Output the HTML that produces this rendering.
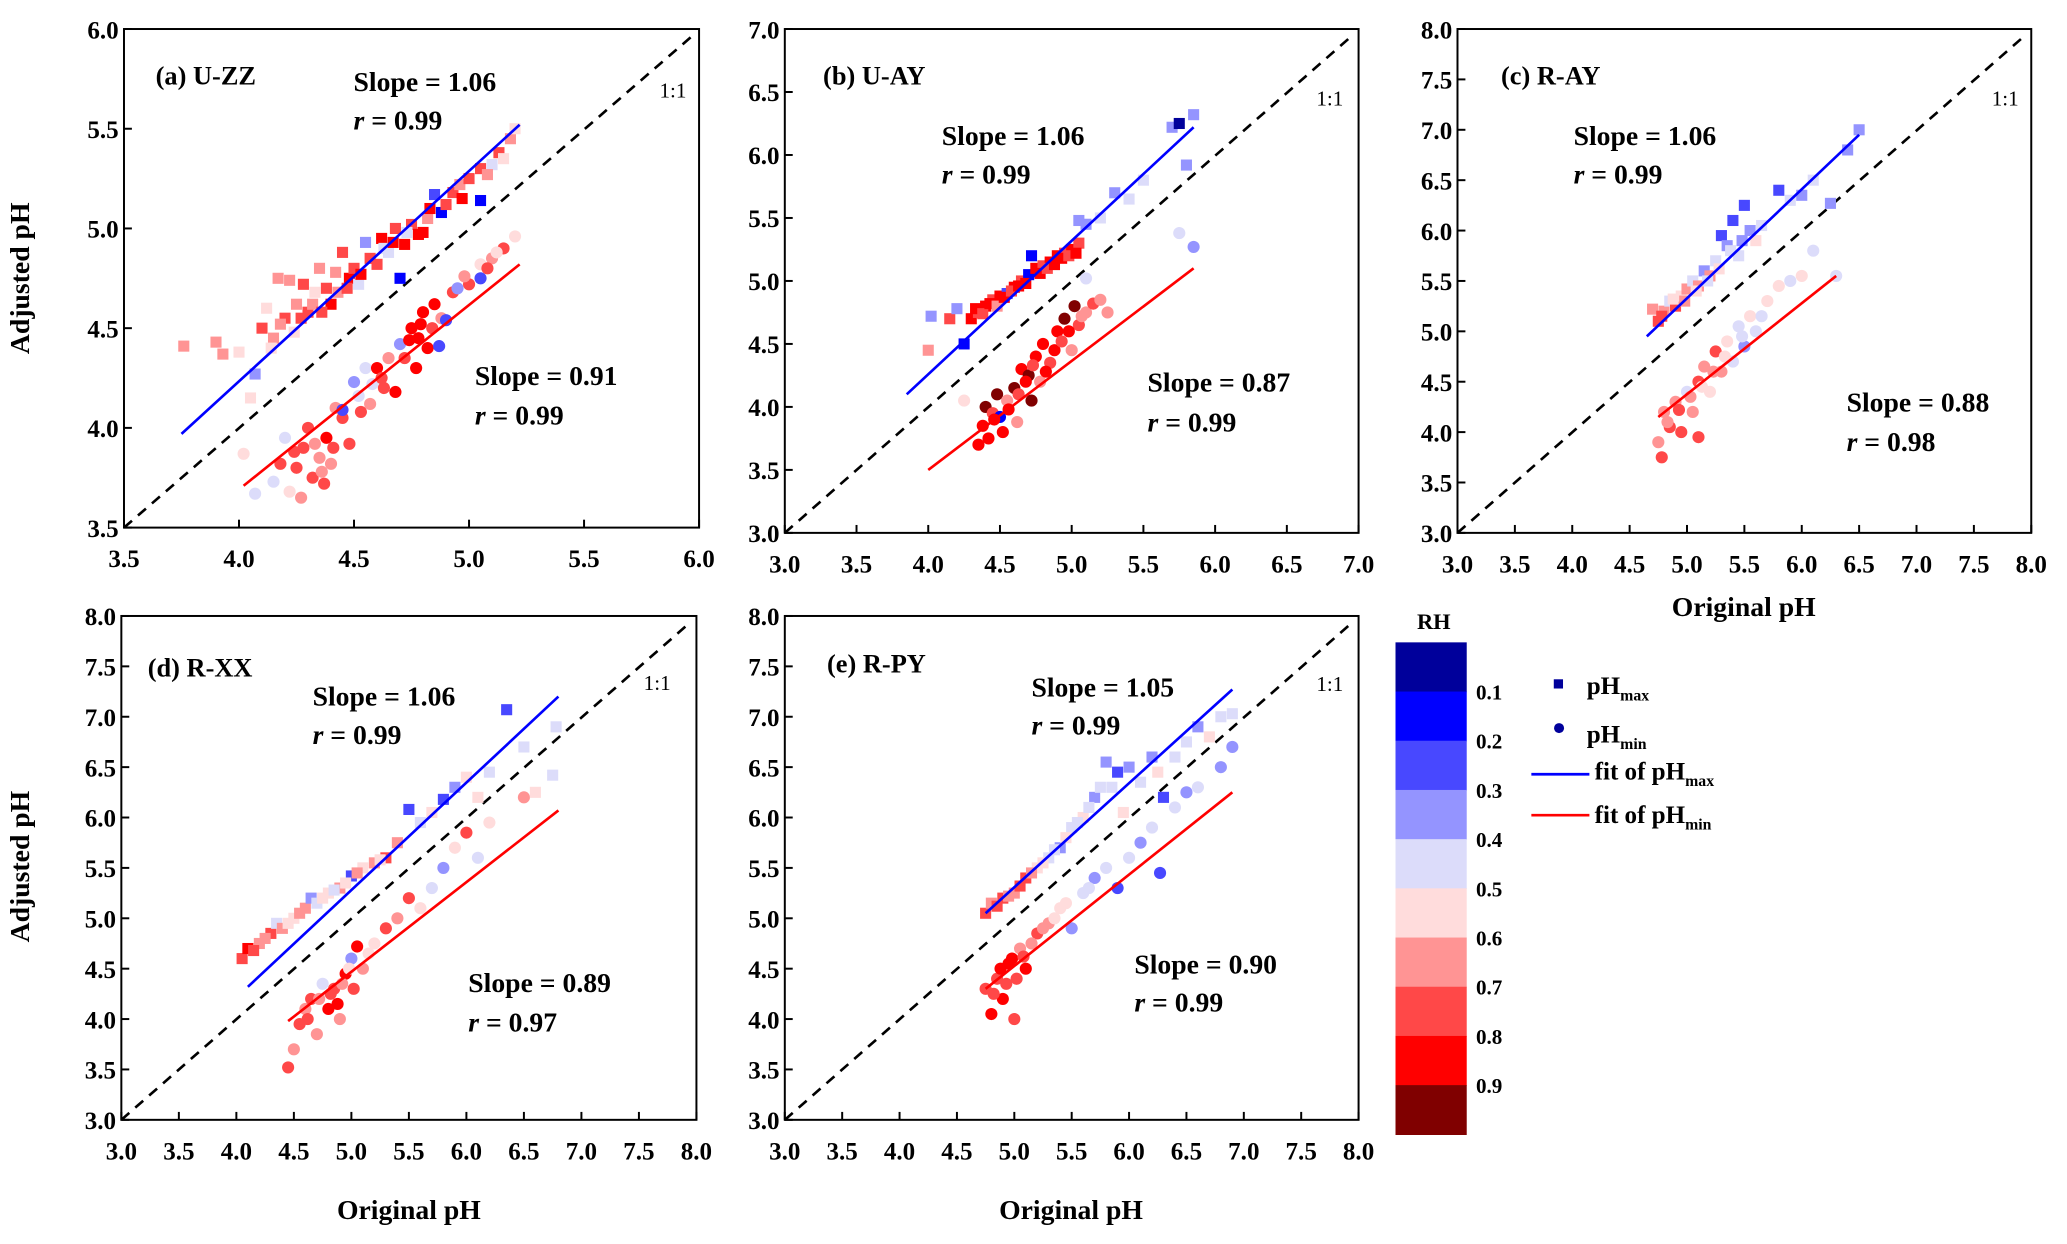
<!DOCTYPE html>
<html><head><meta charset="utf-8"><style>
html,body{margin:0;padding:0;background:#fff}
svg{display:block}
text{font-family:"Liberation Serif",serif;font-weight:bold;fill:#000}
text.thin{font-weight:normal}
</style></head><body>
<svg id="fig" width="2067" height="1244" viewBox="0 0 2067 1244" xmlns="http://www.w3.org/2000/svg">
<g id="root" transform="scale(1.319)"></g>
</svg>
<script>
const rhColors = ["#00009B","#0000FF","#4848FF","#9494FF","#DCDCFA","#FFDCDC","#FF9494","#FF4848","#FF0000","#800000"];
const rhLabels = ["0.1","0.2","0.3","0.4","0.5","0.6","0.7","0.8","0.9"];
const panelNames = ["(a) U-ZZ","(b) U-AY","(c) R-AY","(d) R-XX","(e) R-PY"];
const slopeMax = ["1.06","1.06","1.06","1.06","1.05"];
const rMax = ["0.99","0.99","0.99","0.99","0.99"];
const slopeMin = ["0.91","0.87","0.88","0.89","0.90"];
const rMin = ["0.99","0.99","0.98","0.97","0.99"];
const axisMin = [3.5,3.0,3.0,3.0,3.0];
const axisMax = [6.0,7.0,8.0,8.0,8.0];
const fitMax = [[3.75,3.97,5.22,5.52],[3.85,4.1,5.85,6.22],[4.65,4.95,6.5,6.95],[4.1,4.32,6.8,7.2],[4.75,5.05,6.9,7.27]];
const fitMin = [[4.02,3.71,5.22,4.82],[4.0,3.5,5.85,5.1],[4.75,4.15,6.3,5.55],[4.45,3.98,6.8,6.07],[4.75,4.3,6.9,6.25]];
const aMax = [[3.76,4.41,6],[3.9,4.43,6],[3.93,4.37,6],[4.0,4.38,5],[4.05,4.15,5],[4.07,4.27,3],[4.1,4.5,7],[4.12,4.6,5],[4.15,4.45,6],[4.17,4.75,6],[4.2,4.55,7],[4.22,4.74,6],[4.25,4.62,6],[4.28,4.72,7],[4.3,4.58,7],[4.33,4.68,5],[4.35,4.8,6],[4.38,4.7,7],[4.4,4.62,8],[4.42,4.78,6],[4.45,4.88,7],[4.48,4.75,8],[4.5,4.8,7],[4.52,4.72,4],[4.55,4.93,3],[4.6,4.82,7],[4.62,4.95,8],[4.65,4.88,4],[4.68,5.0,7],[4.7,4.75,1],[4.72,4.92,8],[4.75,5.02,7],[4.78,4.97,8],[4.8,4.98,8],[4.82,5.05,6],[4.85,5.17,2],[4.88,5.08,1],[4.9,5.12,7],[4.93,5.18,7],[4.96,5.22,6],[5.0,5.25,7],[5.05,5.14,1],[5.05,5.3,7],[5.1,5.32,4],[5.13,5.38,7],[5.18,5.45,6],[5.2,5.5,5],[4.14,4.4,5],[4.18,4.52,6],[4.24,4.48,5],[4.27,4.55,7],[4.32,4.62,6],[4.36,4.58,7],[4.43,4.68,6],[4.47,4.7,7],[4.53,4.77,8],[4.57,4.85,7],[4.63,4.9,4],[4.67,4.93,8],[4.73,4.98,4],[4.83,5.1,8],[4.97,5.15,8],[5.08,5.27,6],[5.15,5.35,5]];
const aMin = [[4.02,3.87,5],[4.07,3.67,4],[4.15,3.73,4],[4.18,3.82,7],[4.2,3.95,4],[4.22,3.68,5],[4.25,3.8,7],[4.27,3.65,6],[4.28,3.9,7],[4.3,4.0,7],[4.32,3.75,7],[4.35,3.85,6],[4.37,3.72,7],[4.38,3.95,8],[4.4,3.82,6],[4.42,4.1,6],[4.45,4.05,7],[4.45,4.09,2],[4.48,3.92,7],[4.5,4.23,3],[4.53,4.08,7],[4.55,4.3,4],[4.58,4.22,4],[4.6,4.3,8],[4.63,4.2,7],[4.65,4.35,6],[4.68,4.18,8],[4.7,4.42,3],[4.72,4.35,7],[4.75,4.5,8],[4.77,4.3,8],[4.78,4.45,8],[4.8,4.58,8],[4.82,4.4,8],[4.85,4.62,8],[4.87,4.41,2],[4.88,4.55,6],[4.9,4.54,2],[4.93,4.68,7],[4.95,4.7,3],[5.0,4.72,7],[5.05,4.75,2],[5.05,4.82,5],[5.1,4.85,6],[5.15,4.9,7],[5.2,4.96,5],[4.24,3.88,7],[4.33,3.92,6],[4.36,3.78,6],[4.41,3.9,7],[4.52,4.16,4],[4.57,4.12,6],[4.62,4.25,7],[4.74,4.44,8],[4.79,4.52,8],[4.84,4.5,7],[4.98,4.76,6],[5.08,4.8,7],[5.12,4.88,5]];
const bMax = [[4.0,4.45,6],[4.02,4.72,3],[4.15,4.7,7],[4.2,4.78,3],[4.25,4.5,1],[4.3,4.7,8],[4.35,4.75,7],[4.4,4.8,8],[4.45,4.85,7],[4.5,4.88,8],[4.55,4.9,2],[4.6,4.95,8],[4.65,5.0,7],[4.7,5.05,1],[4.72,5.2,1],[4.75,5.1,8],[4.8,5.12,7],[4.85,5.15,8],[4.9,5.2,8],[4.95,5.22,7],[5.0,5.25,8],[5.05,5.3,7],[5.05,5.48,3],[5.1,5.45,3],[5.2,5.5,4],[5.3,5.7,3],[5.4,5.65,4],[5.5,5.8,4],[5.7,6.22,3],[5.75,6.25,0],[5.85,6.32,3],[5.8,5.92,3],[4.33,4.78,8],[4.38,4.74,7],[4.43,4.82,8],[4.48,4.8,6],[4.53,4.87,8],[4.58,4.92,7],[4.63,4.96,8],[4.68,4.98,8],[4.78,5.06,8],[4.83,5.1,7],[4.88,5.13,8],[4.93,5.18,8],[4.98,5.2,7],[5.03,5.22,8]];
const bMin = [[4.25,4.05,5],[4.35,3.7,8],[4.38,3.85,8],[4.4,4.0,9],[4.45,3.95,7],[4.48,4.1,9],[4.5,3.92,1],[4.52,3.8,8],[4.55,4.05,6],[4.6,4.15,9],[4.62,3.88,6],[4.65,4.3,8],[4.7,4.25,9],[4.72,4.05,9],[4.75,4.4,8],[4.78,4.2,6],[4.8,4.5,8],[4.85,4.35,7],[4.9,4.6,8],[4.95,4.7,9],[5.0,4.45,6],[5.02,4.8,9],[5.05,4.65,7],[5.1,4.75,6],[5.15,4.82,7],[5.2,4.85,6],[5.1,5.02,4],[5.25,4.75,6],[5.75,5.38,4],[5.85,5.27,3],[4.42,3.75,8],[4.46,3.9,8],[4.56,3.98,8],[4.63,4.1,7],[4.68,4.2,8],[4.73,4.33,7],[4.82,4.28,8],[4.88,4.45,8],[4.93,4.52,7],[4.98,4.6,8],[5.07,4.72,6]];
const cMax = [[4.7,5.22,6],[4.75,5.1,7],[4.8,5.2,6],[4.85,5.3,4],[4.9,5.25,7],[4.95,5.35,5],[5.0,5.42,6],[5.05,5.5,4],[5.1,5.45,6],[5.15,5.6,3],[5.2,5.55,6],[5.25,5.7,4],[5.3,5.95,2],[5.35,5.85,3],[5.4,6.1,2],[5.45,5.75,4],[5.5,6.25,2],[5.55,6.0,3],[5.6,5.9,5],[5.8,6.4,2],[5.9,6.3,4],[6.0,6.35,3],[6.1,6.5,4],[6.25,6.27,3],[6.4,6.8,3],[6.5,7.0,3],[4.78,5.15,7],[4.88,5.32,5],[4.98,5.3,6],[5.08,5.4,5],[5.18,5.5,4],[5.28,5.62,5],[5.38,5.8,4],[5.48,5.9,3],[5.65,6.05,4]];
const cMin = [[4.75,3.9,6],[4.78,3.75,7],[4.8,4.2,6],[4.85,4.05,7],[4.9,4.3,6],[4.95,4.0,7],[5.0,4.4,4],[5.05,4.2,6],[5.1,4.5,7],[5.1,3.95,7],[5.15,4.65,6],[5.2,4.4,5],[5.25,4.8,7],[5.3,4.6,6],[5.35,4.9,5],[5.4,4.7,4],[5.45,5.05,4],[5.5,4.85,3],[5.55,5.15,5],[5.6,5.0,4],[5.7,5.3,5],[5.8,5.45,5],[5.9,5.5,4],[6.0,5.55,5],[6.1,5.8,4],[6.3,5.55,4],[4.83,4.1,6],[4.93,4.22,7],[5.03,4.35,6],[5.13,4.45,5],[5.23,4.6,6],[5.33,4.75,5],[5.48,4.95,4],[5.65,5.15,4]];
const dMax = [[4.05,4.6,7],[4.1,4.7,8],[4.2,4.75,6],[4.3,4.85,7],[4.35,4.95,4],[4.4,4.9,6],[4.5,5.0,5],[4.6,5.1,6],[4.65,5.2,3],[4.7,5.15,4],[4.8,5.25,5],[4.9,5.3,6],[5.0,5.42,2],[5.1,5.5,5],[5.2,5.55,6],[5.3,5.6,7],[5.4,5.75,6],[5.5,6.08,2],[5.6,5.95,4],[5.7,6.05,5],[5.8,6.18,2],[5.9,6.3,3],[6.0,6.4,5],[6.1,6.2,5],[6.2,6.45,4],[6.35,7.07,2],[6.5,6.7,4],[6.6,6.25,5],[6.75,6.42,4],[6.78,6.9,4],[4.15,4.68,7],[4.25,4.8,6],[4.45,4.95,5],[4.55,5.05,6],[4.75,5.2,5],[4.85,5.28,4],[4.95,5.35,5],[5.05,5.45,6],[5.25,5.58,5]];
const dMin = [[4.45,3.52,7],[4.5,3.7,6],[4.55,3.95,7],[4.6,4.1,6],[4.65,4.2,7],[4.7,3.85,6],[4.75,4.35,4],[4.8,4.1,8],[4.85,4.3,7],[4.9,4.0,6],[4.95,4.45,8],[5.0,4.6,3],[5.05,4.72,8],[5.1,4.5,6],[5.2,4.75,5],[5.3,4.9,7],[5.4,5.0,6],[5.5,5.2,7],[5.6,5.1,5],[5.7,5.3,4],[5.8,5.5,3],[5.9,5.7,5],[6.0,5.85,7],[6.1,5.6,4],[6.2,5.95,5],[6.5,6.2,6],[4.62,4.0,7],[4.72,4.2,6],[4.82,4.25,7],[4.88,4.15,8],[4.92,4.35,6],[4.98,4.5,5],[5.02,4.3,7],[5.15,4.65,5]];
const eMax = [[4.75,5.05,7],[4.8,5.15,6],[4.9,5.2,7],[5.0,5.25,6],[5.1,5.4,7],[5.2,5.5,5],[5.3,5.6,4],[5.4,5.7,3],[5.5,5.9,4],[5.6,6.0,5],[5.7,6.2,3],[5.8,6.55,3],[5.85,6.3,4],[5.9,6.45,2],[6.0,6.5,3],[6.1,6.35,4],[6.2,6.6,3],[6.25,6.45,5],[6.3,6.2,2],[6.4,6.6,4],[6.5,6.75,4],[6.6,6.9,3],[6.7,6.8,5],[6.8,7.0,4],[6.9,7.03,4],[5.95,6.05,5],[4.85,5.12,7],[4.95,5.22,6],[5.05,5.32,7],[5.15,5.45,6],[5.25,5.55,5],[5.35,5.68,4],[5.45,5.8,5],[5.55,5.95,4],[5.65,6.1,4],[5.75,6.3,4]];
const eMin = [[4.75,4.3,7],[4.8,4.05,8],[4.85,4.4,7],[4.9,4.2,8],[4.95,4.55,8],[5.0,4.0,7],[5.05,4.7,6],[5.1,4.5,8],[5.2,4.85,7],[5.3,4.95,6],[5.4,5.1,5],[5.5,4.9,3],[5.6,5.25,4],[5.7,5.4,3],[5.8,5.5,4],[5.9,5.3,2],[6.0,5.6,4],[6.1,5.75,3],[6.2,5.9,4],[6.27,5.45,2],[6.4,6.1,4],[6.5,6.25,3],[6.6,6.3,4],[6.8,6.5,3],[6.9,6.7,3],[4.82,4.25,7],[4.88,4.5,8],[4.93,4.35,7],[4.98,4.6,8],[5.02,4.4,7],[5.08,4.62,7],[5.15,4.75,6],[5.25,4.9,6],[5.35,5.0,5],[5.45,5.15,5],[5.65,5.3,4]];
const seriesMax = [aMax,bMax,cMax,dMax,eMax];
const seriesMin = [aMin,bMin,cMin,dMin,eMin];

const NS="http://www.w3.org/2000/svg";
const root=document.getElementById('root');
function mk(tag,attrs,parent,txt){const e=document.createElementNS(NS,tag);for(const k in attrs)e.setAttribute(k,attrs[k]);if(txt!==undefined)e.textContent=txt;(parent||root).appendChild(e);return e;}
const frames=[{l:94,r:530,t:22,b:400},{l:595,r:1030,t:22,b:404},{l:1105,r:1540,t:22,b:404},{l:92,r:528,t:467,b:849},{l:595,r:1030,t:467,b:849}];
const textPos=[
 {lab:[118,64],s1:[268,69],r1:[268,98],one:[500,74],s2:[360,292],r2:[360,322]},
 {lab:[624,64],s1:[714,110],r1:[714,139],one:[998,80],s2:[870,297],r2:[870,327]},
 {lab:[1138,64],s1:[1193,110],r1:[1193,139],one:[1510,80],s2:[1400,312],r2:[1400,342]},
 {lab:[112,513],s1:[237,535],r1:[237,564],one:[488,523],s2:[355,752],r2:[355,782]},
 {lab:[627,510],s1:[782,528],r1:[782,557],one:[998,524],s2:[860,738],r2:[860,767]}];
frames.forEach((f,i)=>{
 const g=mk('g',{});
 
 
 const lo=axisMin[i],hi=axisMax[i];
 const X=v=>f.l+(v-lo)/(hi-lo)*(f.r-f.l);
 const Y=v=>f.b-(v-lo)/(hi-lo)*(f.b-f.t);
 const d1=mk('line',{x1:X(lo),y1:Y(lo),x2:X(hi)-6,y2:Y(hi)+6,stroke:'#000','stroke-width':2,'stroke-dasharray':'8,6'},g);
 
 
 seriesMin[i].forEach(p=>{const c=mk('circle',{cx:X(p[0]),cy:Y(p[1]),r:4.6,fill:rhColors[p[2]]},g);
  
  });
 seriesMax[i].forEach(p=>{const s=mk('rect',{x:X(p[0])-4.2,y:Y(p[1])-4.2,width:8.4,height:8.4,fill:rhColors[p[2]]},g);
  
  });
 const fm=fitMax[i],fn=fitMin[i];
 const l1=mk('line',{x1:X(fm[0]),y1:Y(fm[1]),x2:X(fm[2]),y2:Y(fm[3]),stroke:'#0000FF','stroke-width':2},g);
 
 
 const l2=mk('line',{x1:X(fn[0]),y1:Y(fn[1]),x2:X(fn[2]),y2:Y(fn[3]),stroke:'#FF0000','stroke-width':2},g);
 
 
 const fr=mk('rect',{x:f.l,y:f.t,width:f.r-f.l,height:f.b-f.t,fill:'none',stroke:'#000','stroke-width':1.5},g);
 
 
 for(let v=lo;v<=hi+1e-9;v+=0.5){
  mk('line',{x1:X(v),y1:f.b,x2:X(v),y2:f.b-6,stroke:'#000','stroke-width':1.5},g);
  mk('line',{x1:f.l,y1:Y(v),x2:f.l+6,y2:Y(v),stroke:'#000','stroke-width':1.5},g);
  const tx=mk('text',{x:X(v),y:f.b+30,'text-anchor':'middle','font-size':19},g,v.toFixed(1));
  
  
  const ty=mk('text',{x:f.l-4,y:Y(v)+7,'text-anchor':'end','font-size':19},g,v.toFixed(1));
  
  
 }
 const t=textPos[i];
 const pl=mk('text',{x:t.lab[0],y:t.lab[1],'font-size':20},g,panelNames[i]);
 
 
 const s1=mk('text',{x:t.s1[0],y:t.s1[1],'font-size':21},g,'Slope = '+slopeMax[i]);
 
 
 const r1=mk('text',{x:t.r1[0],y:t.r1[1],'font-size':21},g);
 r1.innerHTML='<tspan font-style="italic">r</tspan> = '+rMax[i];
 
 
 const s2=mk('text',{x:t.s2[0],y:t.s2[1],'font-size':21},g,'Slope = '+slopeMin[i]);
 
 
 const r2=mk('text',{x:t.r2[0],y:t.r2[1],'font-size':21},g);
 r2.innerHTML='<tspan font-style="italic">r</tspan> = '+rMin[i];
 
 
 const on=mk('text',{x:t.one[0],y:t.one[1],'font-size':16,'class':'thin'},g,'1:1');
 
 
});
[[22,211],[22,657]].forEach(p=>{const a=mk('text',{x:p[0],y:p[1],'font-size':21,'text-anchor':'middle',transform:`rotate(-90 ${p[0]} ${p[1]})`},root,'Adjusted pH');
 
 });
[[1322,467],[310,924],[812,924]].forEach(p=>{const a=mk('text',{x:p[0],y:p[1],'font-size':21,'text-anchor':'middle'},root,'Original pH');
 
 });
const cb=mk('g',{});


const cbTop=487,cbH=37.3;
rhColors.forEach((c,k)=>{mk('rect',{x:1058,y:cbTop+k*cbH,width:54,height:cbH+0.5,fill:c},cb);});
rhLabels.forEach((l,k)=>{const t=mk('text',{x:1119,y:cbTop+(k+1)*cbH+6,'font-size':16},cb,l);
 
 });
const rh=mk('text',{x:1087,y:477,'font-size':17,'text-anchor':'middle'},cb,'RH');


const lg=mk('g',{});


mk('rect',{x:1178,y:515,width:7,height:7,fill:'#00009B'},lg);
mk('circle',{cx:1182,cy:552,r:3.8,fill:'#00009B'},lg);
mk('line',{x1:1161,y1:587,x2:1205,y2:587,stroke:'#0000FF','stroke-width':2},lg);
mk('line',{x1:1161,y1:618,x2:1205,y2:618,stroke:'#FF0000','stroke-width':2},lg);
const legTexts=[[1203,526,'pH','max'],[1203,563,'pH','min'],[1209,591,'fit of pH','max'],[1209,624,'fit of pH','min']];
legTexts.forEach(p=>{const t=mk('text',{x:p[0],y:p[1],'font-size':19},lg);
 t.innerHTML=p[2]+'<tspan font-size="12" dy="5">'+p[3]+'</tspan>';
 
 });
</script>
</body></html>
